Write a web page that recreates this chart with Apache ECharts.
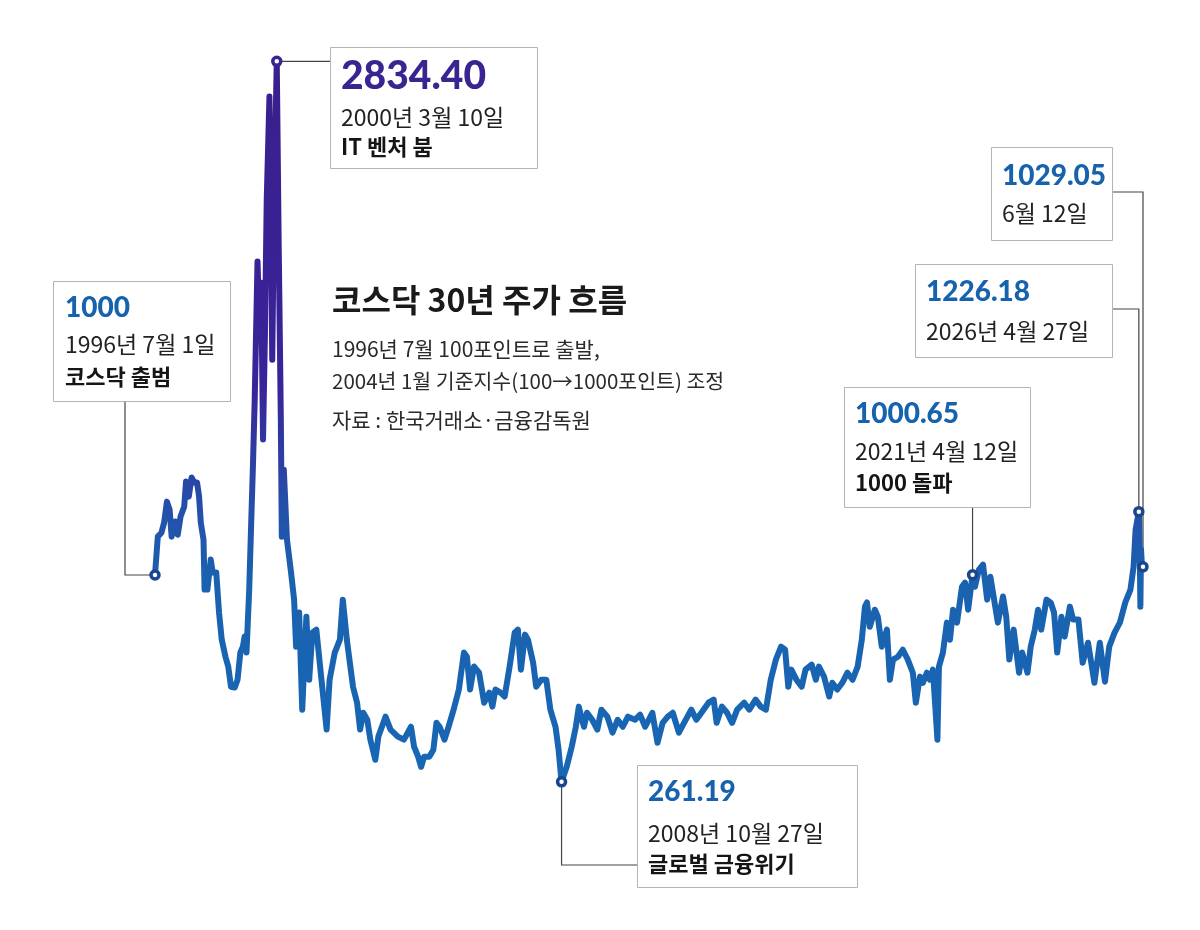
<!DOCTYPE html>
<html>
<head>
<meta charset="utf-8">
<script src="https://cdn.jsdelivr.net/npm/echarts@6/dist/echarts.min.js"></script>
<style>
html,body{margin:0;padding:0;background:#fff;}
#c{width:1200px;height:930px;}
</style>
</head>
<body>
<div id="c"></div>
<script>
// ---- DATA (KOSDAQ, rebased to 1000) ----
const datesA = ['1996-07-01','1996-08-01','1996-09-10','1996-10-10','1996-11-10','1996-12-10','1997-01-01','1997-02-10','1997-03-10','1997-04-10','1997-05-20','1997-06-10','1997-07-10','1997-08-10','1997-09-10','1997-10-10','1997-11-01','1997-11-20','1997-12-20','1998-01-01','1998-02-01','1998-03-10','1998-04-01','1998-05-10','1998-06-10','1998-07-10','1998-08-20','1998-09-20','1998-10-20','1998-12-01','1999-01-01','1999-02-01','1999-03-01','1999-03-20','1999-04-10','1999-05-10','1999-06-01','1999-06-20','1999-07-10','1999-08-10','1999-09-01','1999-09-20','1999-10-10','1999-11-01','1999-11-20','1999-12-20','2000-01-10','2000-01-20','2000-02-10','2000-03-10'];
const valuesA = [1000,1137,1151,1187,1262,1233,1137,1191,1144,1209,1244,1334,1280,1348,1330,1330,1280,1187,1126,948,948,1055,1009,1009,866,769,708,673,601,598,626,723,744,780,723,948,1187,1387,1627,2120,1876,2044,1484,1876,2341,2709,2162,1769,2341,2834.40];

const datesB = ['2000-04-01','2000-04-24','2000-05-05','2000-05-27','2000-07-01','2000-08-15','2000-09-18','2000-10-10','2000-11-13','2000-12-17','2001-02-01','2001-03-04','2001-04-08','2001-05-22','2001-07-18','2001-09-13','2001-10-16','2001-12-12','2002-02-07','2002-03-11','2002-04-25','2002-05-28','2002-07-02','2002-08-16','2002-09-19','2002-10-23','2002-12-07','2003-01-10','2003-03-06','2003-04-09','2003-06-27','2003-08-22','2003-11-10','2004-01-17','2004-04-04','2004-05-08','2004-06-22','2004-07-25','2004-08-28','2004-10-24','2004-12-08','2005-01-11','2005-02-15','2005-04-10','2005-05-25','2005-07-20','2005-09-16','2005-11-11','2005-12-14','2006-01-18','2006-03-03','2006-04-28','2006-06-23','2006-08-19','2006-09-22','2006-10-26','2006-12-21','2007-02-05','2007-04-01','2007-05-27','2007-07-01','2007-08-04','2007-09-18','2007-10-21','2007-12-17','2008-01-20','2008-03-16','2008-05-11','2008-06-25','2008-08-21','2008-09-24','2008-10-27'];
const valuesB = [2162,1555,1137,1376,1126,1009,912,744,866,519,851,626,794,805,626,448,626,723,769,912,769,687,601,544,448,508,483,412,340,423,494,448,423,412,458,387,351,315,351,351,376,472,458,412,458,519,591,723,708,591,673,651,544,580,530,591,580,566,673,794,805,662,787,769,687,601,626,626,519,458,376,261.19];

const datesC = ['2008-12-23','2009-02-17','2009-04-03','2009-05-06','2009-06-10','2009-07-02','2009-08-05','2009-10-01','2009-11-27','2010-01-11','2010-03-18','2010-05-14','2010-07-10','2010-09-05','2010-11-01','2011-01-19','2011-03-15','2011-05-11','2011-07-29','2011-09-24','2011-11-20','2012-01-16','2012-03-11','2012-05-18','2012-07-14','2012-10-02','2012-11-27','2013-02-15','2013-04-11','2013-06-07','2013-07-10','2013-09-06','2013-11-02','2013-12-28','2014-02-22','2014-05-11','2014-07-07','2014-09-14','2014-11-10','2015-01-06','2015-03-01','2015-04-27','2015-06-23','2015-08-07','2015-09-11','2015-10-14','2015-12-10','2016-02-06','2016-03-20','2016-05-27','2016-07-12','2016-08-15','2016-10-11','2016-12-07','2017-01-10','2017-03-06','2017-05-01','2017-06-27','2017-08-23','2017-10-18','2017-12-03','2018-01-07','2018-01-29'];
const valuesC = [315,387,458,530,483,458,508,483,448,519,494,437,483,458,494,483,501,458,508,401,472,494,508,437,472,519,483,519,544,555,472,530,508,472,519,544,519,555,530,519,626,698,744,733,601,662,626,601,662,680,626,673,637,566,615,591,615,651,626,673,769,887,902];

const datesD = ['2018-03-01','2018-04-26','2018-05-29','2018-07-12','2018-09-07','2018-10-10','2018-11-13','2019-01-07','2019-03-02','2019-04-26','2019-06-21','2019-07-24','2019-09-08','2019-10-10','2019-11-24','2019-12-27','2020-01-29','2020-03-19','2020-04-05','2020-05-19','2020-07-02','2020-08-05','2020-09-08','2020-10-22','2020-12-16','2021-01-19','2021-02-22','2021-04-12','2021-05-08','2021-06-22','2021-08-06','2021-09-21','2021-10-26','2021-12-01','2022-01-17','2022-03-15','2022-04-20','2022-05-24','2022-07-11','2022-09-09','2022-10-13','2022-12-11','2023-01-16','2023-03-02','2023-04-07','2023-05-12','2023-07-10','2023-08-26','2023-10-01','2023-11-05','2023-12-22','2024-01-27','2024-03-25','2024-04-29','2024-06-27','2024-08-13','2024-10-11','2024-11-16','2024-12-21','2025-02-19','2025-04-17','2025-06-03','2025-08-01','2025-09-29','2025-11-27','2026-01-24','2026-02-28','2026-03-22','2026-04-27','2026-05-07','2026-05-14','2026-05-21','2026-06-01','2026-06-12'];
const valuesD = [815,876,851,744,805,626,698,708,733,698,651,544,637,615,651,626,662,412,673,723,830,769,876,830,958,973,876,1000.65,958,1019,1037,912,994,923,830,923,851,698,805,651,723,651,744,805,876,805,912,901,866,723,851,780,887,841,841,687,758,687,615,758,619,744,794,830,901,948,1030,1162,1226.18,1091,887,1091,1030,1029.05];

// annotated points
const annoDates = ['1996-07-01','2000-03-10','2008-10-27','2021-04-12','2026-04-27','2026-06-12'];
const annoValues = [1000, 2834.40, 261.19, 1000.65, 1226.18, 1029.05];
const annoValueLabels = ['1000','2834.40','261.19','1000.65','1226.18','1029.05'];
const annoDateLabels = ['1996년 7월 1일','2000년 3월 10일','2008년 10월 27일','2021년 4월 12일','2026년 4월 27일','6월 12일'];
const annoNotes = ['코스닥 출범','IT 벤처 붐','글로벌 금융위기','1000 돌파','',''];

const titleText = '코스닥 30년 주가 흐름';
const subLines = ['1996년 7월 100포인트로 출발,','2004년 1월 기준지수(100→1000포인트) 조정','자료 : 한국거래소·금융감독원'];

// ---- BUILD ----
const allDates = datesA.concat(datesB, datesC, datesD);
const allValues = valuesA.concat(valuesB, valuesC, valuesD);
const lineData = allDates.map((d, i) => [d, allValues[i]]);
const annoData = annoDates.map((d, i) => [d, annoValues[i]]);

const FONT = '"Noto Sans CJK KR", "Noto Sans", sans-serif';
const NUMFONT = 'Lato, "Noto Sans CJK KR", sans-serif';
const BLUE = '#1762ad';
const PURPLE = '#3a2490';

const chart = echarts.init(document.getElementById('c'), null, {renderer: 'canvas'});

const option = {
  animation: false,
  backgroundColor: '#ffffff',
  grid: {left: 155, right: 57, top: 15, bottom: 75},
  xAxis: {
    type: 'time', min: '1996-07-01', max: '2026-06-12',
    show: false, splitLine: {show: false}
  },
  yAxis: {
    type: 'value', min: 0, max: 3000,
    show: false, splitLine: {show: false}
  },
  series: [
    {
      type: 'line', data: lineData, showSymbol: false, z: 2,
      lineStyle: {
        width: 6, join: 'round', cap: 'round',
        color: new echarts.graphic.LinearGradient(0, 0, 0, 1, [
          {offset: 0, color: '#3b1e8d'},
          {offset: 0.45, color: '#382499'},
          {offset: 0.55, color: '#2e3ea2'},
          {offset: 0.62, color: '#2450a9'},
          {offset: 0.72, color: '#1a62b0'},
          {offset: 1, color: '#1767b4'}
        ])
      }
    },
    {
      type: 'scatter', z: 10, symbol: 'circle', symbolSize: 8,
      data: annoData.map((p, i) => ({
        value: p,
        itemStyle: {color: '#ffffff', opacity: 1, borderWidth: 3.5, borderColor: i === 1 ? PURPLE : '#1a4590'}
      }))
    }
  ]
};
chart.setOption(option);

// ---- ANNOTATIONS (boxes fixed, leaders tied to data points) ----
const boxes = [
  {x: 53, y: 281, w: 177, h: 120, tx: 65, ty: [308, 344, 377]},
  {x: 330, y: 47, w: 207, h: 121, tx: 341, ty: [76, 117, 147]},
  {x: 637, y: 765, w: 220, h: 122, tx: 648, ty: [792, 833, 864]},
  {x: 844, y: 387, w: 186, h: 120, tx: 855, ty: [414, 451, 483]},
  {x: 915, y: 264, w: 197, h: 93, tx: 926, ty: [292, 331]},
  {x: 991, y: 147, w: 121, h: 93, tx: 1002, ty: [176, 213]}
];

function txt(x, y, text, font, fill) {
  return {
    type: 'text', x: x, y: y, z: 30,
    style: {text: text, font: font, fill: fill,
      align: 'left', verticalAlign: 'middle',
      textAlign: 'left', textVerticalAlign: 'middle'}
  };
}

const px = annoData.map(p => chart.convertToPixel({xAxisIndex: 0, yAxisIndex: 0}, p));
const leaderPts = [
  [[boxes[0].x + 72, boxes[0].y + boxes[0].h], [boxes[0].x + 72, px[0][1]], px[0]],
  [px[1], [boxes[1].x, px[1][1]]],
  [px[2], [px[2][0], 865], [boxes[2].x, 865]],
  [[px[3][0], boxes[3].y + boxes[3].h], px[3]],
  [[boxes[4].x + boxes[4].w, 309], [px[4][0], 309], px[4]],
  [[boxes[5].x + boxes[5].w, 192], [px[5][0], 192], px[5]]
];

const elements = [];
leaderPts.forEach(pts => {
  elements.push({type: 'polyline', z: 1, shape: {points: pts},
    style: {stroke: '#444444', lineWidth: 1.2, fill: null}});
});
boxes.forEach((b, i) => {
  elements.push({type: 'rect', z: 20, shape: {x: b.x + 0.5, y: b.y + 0.5, width: b.w, height: b.h},
    style: {fill: '#ffffff', stroke: '#b4b4b4', lineWidth: 1}});
  const vFont = i === 1 ? '900 39px ' + NUMFONT : '900 28px ' + NUMFONT;
  elements.push(txt(b.tx, b.ty[0], annoValueLabels[i], vFont, i === 1 ? PURPLE : BLUE));
  elements.push(txt(b.tx, b.ty[1], annoDateLabels[i], '23px ' + FONT, '#222222'));
  if (annoNotes[i]) elements.push(txt(b.tx, b.ty[2], annoNotes[i], 'bold 22px ' + FONT, '#151515'));
});
elements.push(txt(332, 300, titleText, 'bold 32px ' + FONT, '#1a1a1a'));
elements.push(txt(332, 349, subLines[0], '21px ' + FONT, '#2a2a2a'));
elements.push(txt(332, 381, subLines[1], '20.5px ' + FONT, '#2a2a2a'));
elements.push(txt(332, 420, subLines[2], '21px ' + FONT, '#2a2a2a'));

chart.setOption({graphic: {elements: elements}});
</script>
</body>
</html>
